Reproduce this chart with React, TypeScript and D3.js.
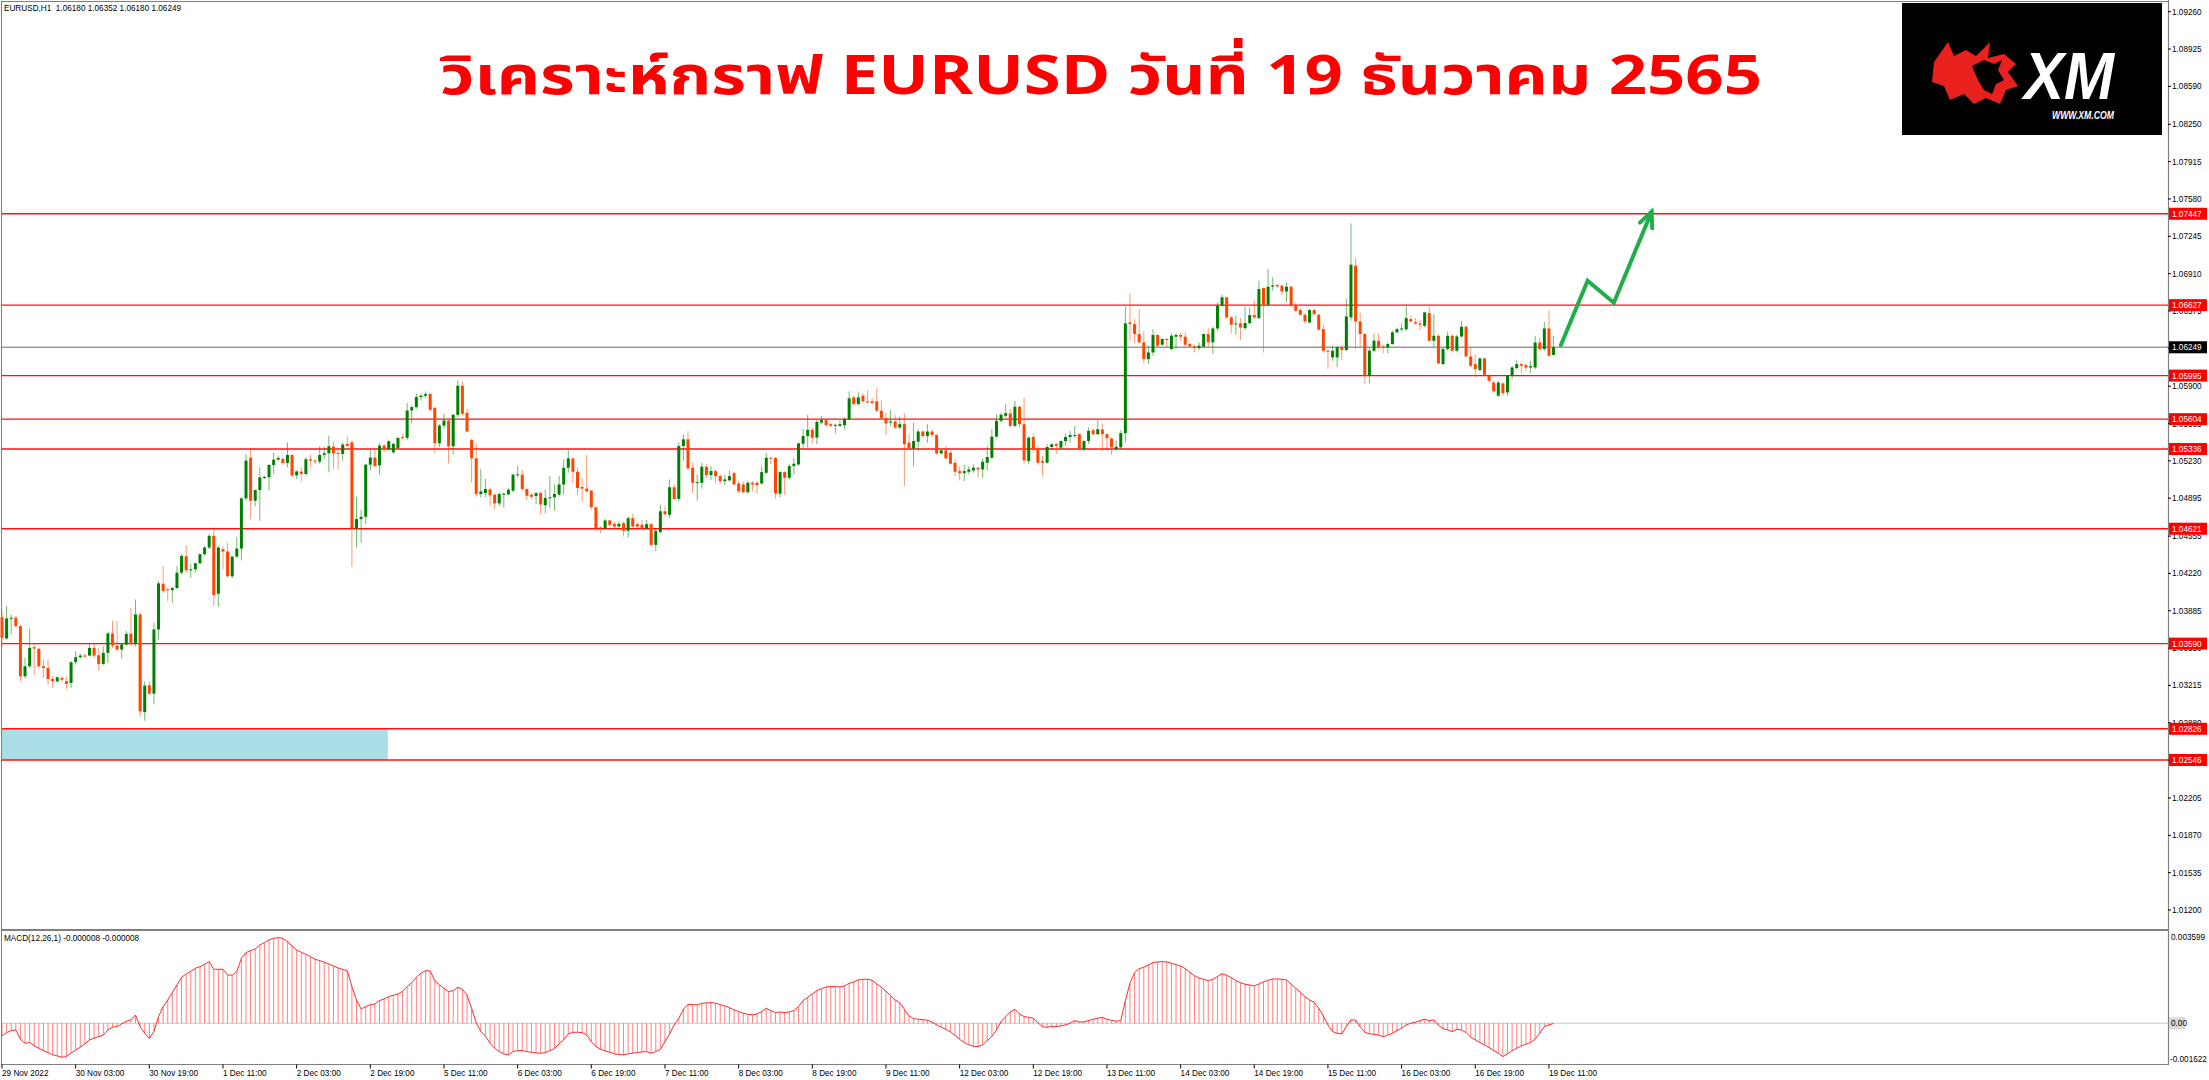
import React from 'react';
import * as d3 from 'd3';

// ---------------- DATA (EURUSD H1) ----------------
const OPEN = [
1.03828,1.03636,1.03813,1.03822,1.03747,1.03297,1.03387,1.03558,1.03543,1.03387,
1.03372,1.03273,1.03252,1.03282,1.03252,1.03237,1.03426,1.03468,1.03483,1.03483,
1.03552,1.03486,1.03408,1.03507,1.03681,1.03573,1.03537,1.03582,1.03678,1.03588,
1.03852,1.02976,1.03216,1.03141,1.03717,1.04128,1.04077,1.04070,1.04089,1.04227,
1.04374,1.04248,1.04257,1.04311,1.04392,1.04452,1.04557,1.04038,1.04437,1.04416,
1.04194,1.04371,1.04443,1.04893,1.05259,1.04872,1.04968,1.05076,1.05082,1.05193,
1.05241,1.05247,1.05211,1.05283,1.05100,1.05133,1.05112,1.05244,1.05232,1.05223,
1.05283,1.05298,1.05358,1.05301,1.05292,1.05382,1.05397,1.04623,1.04707,1.04728,
1.05196,1.05259,1.05190,1.05367,1.05337,1.05307,1.05346,1.05442,1.05436,1.05682,
1.05712,1.05802,1.05814,1.05829,1.05706,1.05388,1.05547,1.05592,1.05361,1.05643,
1.05904,1.05661,1.05418,1.05253,1.04932,1.04941,1.04974,1.04926,1.04848,1.04932,
1.04929,1.04962,1.05106,1.05106,1.04977,1.04926,1.04914,1.04941,1.04831,1.04897,
1.04903,1.04927,1.05018,1.05168,1.05252,1.05132,1.04996,1.04981,1.04963,1.04813,
1.04632,1.04626,1.04695,1.04665,1.04641,1.04671,1.04602,1.04716,1.04662,1.04656,
1.04626,1.04662,1.04476,1.04590,1.04777,1.04746,1.04993,1.04888,1.05363,1.05423,
1.05168,1.05033,1.05033,1.05177,1.05102,1.05138,1.05093,1.05048,1.05055,1.05120,
1.05027,1.05018,1.04948,1.05033,1.05033,1.05027,1.05123,1.05258,1.05255,1.04936,
1.05129,1.05078,1.05183,1.05198,1.05384,1.05453,1.05508,1.05438,1.05574,1.05595,
1.05559,1.05544,1.05544,1.05550,1.05604,1.05800,1.05740,1.05815,1.05764,1.05764,
1.05764,1.05680,1.05613,1.05574,1.05583,1.05529,1.05559,1.05393,1.05342,1.05402,
1.05493,1.05453,1.05493,1.05462,1.05297,1.05324,1.05303,1.05213,1.05138,1.05120,
1.05132,1.05144,1.05168,1.05153,1.05213,1.05258,1.05447,1.05589,1.05634,1.05655,
1.05544,1.05716,1.05559,1.05228,1.05444,1.05342,1.05228,1.05213,1.05354,1.05379,
1.05348,1.05408,1.05444,1.05456,1.05469,1.05333,1.05408,1.05505,1.05469,1.05512,
1.05470,1.05431,1.05336,1.05351,1.05479,1.06472,1.06457,1.06368,1.06293,1.06143,
1.06203,1.06359,1.06272,1.06323,1.06233,1.06344,1.06359,1.06344,1.06278,1.06257,
1.06242,1.06254,1.06368,1.06293,1.06418,1.06622,1.06697,1.06517,1.06454,1.06463,
1.06421,1.06466,1.06538,1.06511,1.06780,1.06631,1.06792,1.06807,1.06801,1.06750,
1.06792,1.06622,1.06583,1.06541,1.06472,1.06583,1.06541,1.06412,1.06218,1.06158,
1.06158,1.06248,1.06224,1.06517,1.06981,1.06481,1.06368,1.05994,1.06218,1.06308,
1.06257,1.06248,1.06278,1.06383,1.06410,1.06410,1.06502,1.06475,1.06463,1.06442,
1.06556,1.06307,1.06352,1.06098,1.06233,1.06352,1.06218,1.06346,1.06433,1.06167,
1.06098,1.06044,1.06149,1.05993,1.05933,1.05814,1.05925,1.05844,1.05993,1.06062,
1.06098,1.06089,1.06068,1.06068,1.06292,1.06233,1.06418,1.06180];

const HIGH = [
1.03882,1.03927,1.03852,1.03837,1.03762,1.03462,1.03726,1.03582,1.03552,1.03447,
1.03447,1.03297,1.03297,1.03297,1.03297,1.03432,1.03522,1.03498,1.03498,1.03597,
1.03597,1.03552,1.03567,1.03696,1.03798,1.03792,1.03597,1.03702,1.03912,1.03987,
1.03867,1.03252,1.03252,1.03777,1.04152,1.04287,1.04092,1.04098,1.04287,1.04392,
1.04473,1.04302,1.04317,1.04401,1.04467,1.04572,1.04632,1.04467,1.04467,1.04497,
1.04377,1.04548,1.04902,1.05292,1.05337,1.04971,1.05172,1.05097,1.05202,1.05301,
1.05277,1.05262,1.05397,1.05292,1.05142,1.05172,1.05262,1.05286,1.05247,1.05361,
1.05358,1.05457,1.05397,1.05322,1.05397,1.05448,1.05412,1.04908,1.04791,1.05202,
1.05337,1.05328,1.05388,1.05382,1.05412,1.05394,1.05442,1.05472,1.05748,1.05727,
1.05832,1.05832,1.05853,1.05838,1.05712,1.05562,1.05652,1.05607,1.05652,1.05952,
1.05943,1.05697,1.05427,1.05382,1.05157,1.05067,1.04992,1.04938,1.04947,1.04947,
1.04986,1.05112,1.05187,1.05148,1.04992,1.04938,1.04947,1.04956,1.04972,1.05093,
1.05018,1.05093,1.05243,1.05333,1.05258,1.05168,1.05078,1.05282,1.04972,1.04822,
1.04641,1.04710,1.04701,1.04680,1.04686,1.04686,1.04731,1.04755,1.04680,1.04701,
1.04701,1.04671,1.04626,1.04837,1.04822,1.05063,1.05018,1.05393,1.05469,1.05499,
1.05213,1.05108,1.05213,1.05198,1.05183,1.05153,1.05108,1.05108,1.05144,1.05132,
1.05048,1.05042,1.05048,1.05048,1.05048,1.05183,1.05303,1.05264,1.05264,1.05138,
1.05138,1.05204,1.05258,1.05393,1.05514,1.05643,1.05529,1.05595,1.05634,1.05604,
1.05574,1.05565,1.05595,1.05619,1.05854,1.05815,1.05845,1.05836,1.05860,1.05794,
1.05881,1.05770,1.05664,1.05686,1.05643,1.05625,1.05655,1.05469,1.05574,1.05514,
1.05505,1.05559,1.05514,1.05469,1.05333,1.05363,1.05318,1.05243,1.05183,1.05198,
1.05183,1.05198,1.05174,1.05252,1.05363,1.05514,1.05649,1.05664,1.05740,1.05695,
1.05770,1.05725,1.05800,1.05453,1.05475,1.05363,1.05273,1.05379,1.05387,1.05393,
1.05414,1.05475,1.05499,1.05544,1.05478,1.05414,1.05529,1.05520,1.05595,1.05566,
1.05476,1.05440,1.05411,1.05506,1.06613,1.06732,1.06502,1.06592,1.06392,1.06263,
1.06410,1.06368,1.06332,1.06332,1.06374,1.06374,1.06383,1.06383,1.06293,1.06272,
1.06293,1.06374,1.06421,1.06433,1.06652,1.06720,1.06703,1.06532,1.06532,1.06511,
1.06613,1.06607,1.06673,1.06846,1.06786,1.06951,1.06876,1.06816,1.06810,1.06831,
1.06801,1.06652,1.06601,1.06553,1.06592,1.06598,1.06547,1.06457,1.06233,1.06263,
1.06263,1.06263,1.06682,1.07361,1.07050,1.06562,1.06374,1.06248,1.06374,1.06374,
1.06272,1.06293,1.06398,1.06427,1.06463,1.06622,1.06532,1.06511,1.06493,1.06568,
1.06612,1.06547,1.06367,1.06248,1.06391,1.06367,1.06361,1.06487,1.06442,1.06248,
1.06182,1.06158,1.06158,1.06009,1.05948,1.05948,1.05933,1.06000,1.06083,1.06137,
1.06113,1.06104,1.06128,1.06352,1.06337,1.06478,1.06577,1.06352];

const LOW = [
1.03552,1.03627,1.03672,1.03732,1.03252,1.03282,1.03372,1.03312,1.03372,1.03282,
1.03222,1.03192,1.03237,1.03252,1.03183,1.03192,1.03402,1.03456,1.03462,1.03477,
1.03462,1.03348,1.03396,1.03417,1.03552,1.03522,1.03456,1.03567,1.03582,1.03567,
1.02937,1.02898,1.03132,1.03048,1.03627,1.04047,1.03972,1.03957,1.04077,1.04212,
1.04227,1.04182,1.04227,1.04302,1.04377,1.04437,1.03927,1.03921,1.04257,1.04182,
1.04176,1.04356,1.04338,1.04872,1.04707,1.04821,1.04692,1.05067,1.04962,1.05112,
1.05232,1.05196,1.05172,1.05082,1.05067,1.05046,1.05097,1.05172,1.05202,1.05202,
1.05247,1.05127,1.05157,1.05157,1.05232,1.05352,1.04278,1.04452,1.04497,1.04662,
1.05142,1.05172,1.05106,1.05307,1.05322,1.05292,1.05337,1.05424,1.05418,1.05568,
1.05697,1.05772,1.05796,1.05676,1.05298,1.05352,1.05517,1.05208,1.05286,1.05622,
1.05637,1.05487,1.05037,1.04908,1.04902,1.04902,1.04827,1.04797,1.04827,1.04812,
1.04920,1.04947,1.05082,1.04962,1.04878,1.04887,1.04842,1.04752,1.04762,1.04807,
1.04782,1.04909,1.04927,1.05123,1.05027,1.04927,1.04867,1.04942,1.04792,1.04602,
1.04581,1.04617,1.04641,1.04626,1.04626,1.04551,1.04542,1.04632,1.04626,1.04617,
1.04611,1.04461,1.04421,1.04581,1.04731,1.04716,1.04882,1.04867,1.05228,1.05147,
1.04942,1.04873,1.04981,1.05078,1.05058,1.05027,1.05027,1.05008,1.05048,1.05011,
1.04942,1.04936,1.04936,1.04957,1.04936,1.05018,1.05108,1.05198,1.04891,1.04903,
1.04927,1.05063,1.05108,1.05183,1.05348,1.05348,1.05384,1.05379,1.05559,1.05535,
1.05535,1.05475,1.05535,1.05514,1.05595,1.05725,1.05725,1.05755,1.05746,1.05740,
1.05664,1.05604,1.05462,1.05544,1.05514,1.05514,1.05002,1.05333,1.05183,1.05318,
1.05438,1.05393,1.05444,1.05288,1.05288,1.05243,1.05198,1.05093,1.05055,1.05048,
1.05108,1.05123,1.05078,1.05078,1.05144,1.05243,1.05438,1.05574,1.05619,1.05529,
1.05529,1.05529,1.05204,1.05198,1.05303,1.05192,1.05093,1.05204,1.05333,1.05294,
1.05333,1.05363,1.05393,1.05438,1.05324,1.05312,1.05384,1.05462,1.05462,1.05315,
1.05327,1.05285,1.05321,1.05336,1.05396,1.06308,1.06284,1.06278,1.06104,1.06098,
1.06173,1.06248,1.06263,1.06242,1.06224,1.06233,1.06308,1.06254,1.06242,1.06203,
1.06224,1.06248,1.06248,1.06188,1.06398,1.06613,1.06502,1.06374,1.06362,1.06314,
1.06404,1.06451,1.06502,1.06502,1.06203,1.06613,1.06756,1.06780,1.06720,1.06652,
1.06607,1.06562,1.06532,1.06463,1.06463,1.06532,1.06398,1.06203,1.06054,1.06128,
1.06069,1.06134,1.06218,1.06487,1.06233,1.06248,1.05925,1.05925,1.06203,1.06233,
1.06194,1.06194,1.06272,1.06374,1.06392,1.06398,1.06472,1.06451,1.06403,1.06427,
1.06301,1.06248,1.06098,1.06092,1.06218,1.06203,1.06203,1.06337,1.06158,1.06074,
1.05978,1.06038,1.05993,1.05933,1.05844,1.05805,1.05814,1.05814,1.05963,1.06053,
1.06015,1.06038,1.06015,1.06053,1.06218,1.06218,1.06164,1.06180];

const CLOSE = [
1.03642,1.03816,1.03822,1.03747,1.03297,1.03387,1.03552,1.03546,1.03387,1.03372,
1.03273,1.03252,1.03288,1.03267,1.03228,1.03423,1.03468,1.03483,1.03474,1.03552,
1.03483,1.03408,1.03507,1.03681,1.03573,1.03537,1.03582,1.03678,1.03588,1.03852,
1.02982,1.03213,1.03141,1.03717,1.04131,1.04062,1.04070,1.04089,1.04227,1.04377,
1.04248,1.04257,1.04311,1.04392,1.04452,1.04557,1.04026,1.04452,1.04416,1.04194,
1.04371,1.04443,1.04893,1.05232,1.04872,1.04968,1.05082,1.05085,1.05193,1.05241,
1.05256,1.05211,1.05283,1.05100,1.05136,1.05112,1.05244,1.05232,1.05223,1.05283,
1.05298,1.05361,1.05298,1.05292,1.05376,1.05364,1.04623,1.04707,1.04728,1.05196,
1.05259,1.05184,1.05367,1.05337,1.05406,1.05382,1.05436,1.05433,1.05682,1.05712,
1.05802,1.05814,1.05829,1.05688,1.05388,1.05547,1.05592,1.05361,1.05643,1.05904,
1.05652,1.05493,1.05253,1.04932,1.04956,1.04977,1.04920,1.04848,1.04932,1.04935,
1.04971,1.05106,1.05109,1.04977,1.04917,1.04908,1.04941,1.04839,1.04897,1.04903,
1.04933,1.05018,1.05168,1.05252,1.05132,1.04987,1.04981,1.04957,1.04813,1.04626,
1.04626,1.04695,1.04656,1.04641,1.04665,1.04602,1.04716,1.04641,1.04641,1.04626,
1.04662,1.04476,1.04602,1.04777,1.04752,1.04993,1.04888,1.05363,1.05423,1.05162,
1.05033,1.05039,1.05177,1.05102,1.05138,1.05093,1.05048,1.05063,1.05093,1.05018,
1.04957,1.04948,1.05033,1.05018,1.05011,1.05129,1.05258,1.05255,1.04936,1.05129,
1.05078,1.05183,1.05204,1.05387,1.05453,1.05508,1.05438,1.05580,1.05595,1.05550,
1.05544,1.05553,1.05559,1.05604,1.05791,1.05740,1.05800,1.05764,1.05758,1.05749,
1.05680,1.05613,1.05565,1.05583,1.05529,1.05559,1.05379,1.05342,1.05408,1.05493,
1.05453,1.05493,1.05462,1.05297,1.05324,1.05252,1.05204,1.05132,1.05120,1.05138,
1.05153,1.05168,1.05153,1.05222,1.05264,1.05447,1.05589,1.05643,1.05658,1.05544,
1.05716,1.05559,1.05234,1.05438,1.05333,1.05213,1.05213,1.05354,1.05379,1.05363,
1.05408,1.05444,1.05462,1.05462,1.05342,1.05408,1.05499,1.05469,1.05514,1.05470,
1.05434,1.05351,1.05357,1.05479,1.06463,1.06457,1.06368,1.06293,1.06143,1.06203,
1.06359,1.06263,1.06323,1.06320,1.06353,1.06359,1.06344,1.06272,1.06257,1.06242,
1.06263,1.06368,1.06293,1.06418,1.06622,1.06697,1.06517,1.06451,1.06463,1.06427,
1.06466,1.06538,1.06517,1.06771,1.06622,1.06792,1.06804,1.06795,1.06750,1.06792,
1.06622,1.06577,1.06541,1.06481,1.06583,1.06547,1.06407,1.06218,1.06212,1.06218,
1.06248,1.06224,1.06526,1.06990,1.06481,1.06368,1.05994,1.06218,1.06308,1.06248,
1.06248,1.06278,1.06383,1.06412,1.06418,1.06511,1.06481,1.06463,1.06451,1.06562,
1.06307,1.06352,1.06104,1.06233,1.06352,1.06218,1.06346,1.06433,1.06167,1.06083,
1.06053,1.06149,1.06003,1.05948,1.05853,1.05933,1.05838,1.05993,1.06068,1.06098,
1.06083,1.06068,1.06080,1.06292,1.06233,1.06418,1.06173,1.06249];

// MACD(12,26,1) main value per bar
const MACD = [
-0.000507,-0.000373,-0.000293,-0.000267,-0.000640,-0.000800,-0.000773,-0.000906,-0.001000,-0.001093,
-0.001173,-0.001266,-0.001306,-0.001360,-0.001333,-0.001200,-0.001066,-0.000960,-0.000826,-0.000667,
-0.000600,-0.000533,-0.000480,-0.000267,-0.000160,-0.000133,-0.000027,0.000080,0.000133,0.000333,
-0.000133,-0.000400,-0.000600,-0.000333,0.000267,0.000667,0.000933,0.001226,0.001533,0.001840,
0.001973,0.002079,0.002199,0.002266,0.002359,0.002466,0.002159,0.002159,0.002159,0.001933,
0.001920,0.002066,0.002599,0.002826,0.002906,0.002973,0.003133,0.003226,0.003333,0.003399,
0.003426,0.003399,0.003266,0.003093,0.002933,0.002839,0.002759,0.002666,0.002559,0.002506,
0.002439,0.002373,0.002293,0.002213,0.002159,0.002093,0.001466,0.000933,0.000573,0.000667,
0.000746,0.000773,0.000906,0.000973,0.001066,0.001120,0.001173,0.001280,0.001466,0.001626,
0.001840,0.002000,0.002106,0.002093,0.001706,0.001533,0.001400,0.001266,0.001306,0.001440,
0.001360,0.001133,0.000600,0.000027,-0.000333,-0.000507,-0.000800,-0.001000,-0.001133,-0.001226,
-0.001266,-0.001133,-0.001093,-0.001093,-0.001133,-0.001160,-0.001186,-0.001200,-0.001173,-0.001093,
-0.001013,-0.000826,-0.000667,-0.000427,-0.000360,-0.000360,-0.000373,-0.000467,-0.000733,-0.000933,
-0.001040,-0.001106,-0.001160,-0.001226,-0.001253,-0.001266,-0.001226,-0.001200,-0.001173,-0.001146,
-0.001133,-0.001200,-0.001133,-0.001040,-0.000733,-0.000427,-0.000067,0.000200,0.000560,0.000760,
0.000746,0.000733,0.000800,0.000813,0.000826,0.000800,0.000746,0.000693,0.000626,0.000533,
0.000467,0.000400,0.000360,0.000333,0.000373,0.000467,0.000600,0.000507,0.000427,0.000453,
0.000427,0.000453,0.000507,0.000667,0.000906,0.001040,0.001173,0.001306,0.001386,0.001453,
0.001466,0.001466,0.001453,0.001493,0.001600,0.001653,0.001733,0.001760,0.001760,0.001720,
0.001573,0.001440,0.001293,0.001093,0.000933,0.000826,0.000560,0.000293,0.000187,0.000160,
0.000147,0.000120,0.000053,-0.000067,-0.000160,-0.000240,-0.000347,-0.000480,-0.000640,-0.000773,
-0.000866,-0.000920,-0.000933,-0.000866,-0.000693,-0.000533,-0.000267,0.000067,0.000267,0.000453,
0.000560,0.000373,0.000267,0.000240,0.000200,0.000027,-0.000147,-0.000160,-0.000133,-0.000133,
-0.000107,-0.000067,0.000000,0.000107,0.000053,0.000053,0.000107,0.000160,0.000200,0.000240,
0.000160,0.000120,0.000080,0.000107,0.000906,0.001600,0.002026,0.002186,0.002239,0.002333,
0.002426,0.002453,0.002466,0.002453,0.002399,0.002346,0.002293,0.002186,0.002039,0.001906,
0.001813,0.001760,0.001706,0.001760,0.001866,0.001986,0.001920,0.001826,0.001706,0.001626,
0.001560,0.001533,0.001493,0.001573,0.001653,0.001720,0.001773,0.001773,0.001760,0.001733,
0.001573,0.001400,0.001240,0.001066,0.000933,0.000840,0.000600,0.000293,-0.000067,-0.000333,
-0.000400,-0.000427,-0.000133,0.000133,0.000133,-0.000133,-0.000360,-0.000427,-0.000440,-0.000480,
-0.000533,-0.000480,-0.000400,-0.000293,-0.000200,-0.000067,0.000000,0.000040,0.000107,0.000160,
0.000107,0.000133,-0.000080,-0.000213,-0.000267,-0.000333,-0.000240,-0.000267,-0.000373,-0.000560,
-0.000667,-0.000773,-0.000866,-0.000973,-0.001093,-0.001200,-0.001333,-0.001226,-0.001093,-0.001000,
-0.000906,-0.000840,-0.000773,-0.000640,-0.000400,-0.000133,-0.000067,-0.000008];

const TIME_LABELS = ['29 Nov 2022','30 Nov 03:00','30 Nov 19:00','1 Dec 11:00','2 Dec 03:00','2 Dec 19:00',
  '5 Dec 11:00','6 Dec 03:00','6 Dec 19:00','7 Dec 11:00','8 Dec 03:00','8 Dec 19:00','9 Dec 11:00',
  '12 Dec 03:00','12 Dec 19:00','13 Dec 11:00','14 Dec 03:00','14 Dec 19:00','15 Dec 11:00',
  '16 Dec 03:00','16 Dec 19:00','19 Dec 11:00'];
const TIME_LABEL_BARS = [0,16,32,48,64,80,96,112,128,144,160,176,192,208,224,240,256,272,288,304,320,336];

const PRICE_TICKS = [1.09260,1.08925,1.08590,1.08250,1.07915,1.07580,1.07245,1.06910,1.06575,1.06240,
  1.05900,1.05565,1.05230,1.04895,1.04555,1.04220,1.03885,1.03550,1.03215,1.02880,1.02545,1.02205,
  1.01870,1.01535,1.01200];

const LEVELS = [1.07447,1.06627,1.05995,1.05604,1.05336,1.04621,1.03590,1.02826,1.02546];
const BID = 1.06249;
const ZONE_BARS = [-0.2, 83.8];
const ZONE_PRICES = [1.02826, 1.02546];

const MACD_AXIS = [0.003599, 0.0, -0.001622];
const MACD_LABELS = ['0.003599', '0.00', '-0.001622'];

const ARROW_BARS = [338.6, 344.4, 350.1, 358.3];
const ARROW_PRICES = [1.06269, 1.06846, 1.06649, 1.07466];

const HEADER = 'EURUSD,H1  1.06180 1.06352 1.06180 1.06249';
const MACD_TITLE = 'MACD(12,26,1) -0.000008 -0.000008';
const TITLE = 'วิเคราะห์กราฟ EURUSD วันที่ 19 ธันวาคม 2565';

// ---------------- LAYOUT ----------------
const W = 2209, H = 1080;
const PLOT_L = 1, PLOT_R = 2168;
const BAR_STEP = 4.604;
const MAIN_TOP_PX = 11.7, MAIN_BOT_PX = 910;
const PRICE_TOP = 1.0926, PRICE_BOT = 1.012;
const SEP_Y = 930;
const MACD_TOP_PX = 933.3, MACD_BOT_PX = 1063.8;
const AXIS_Y = 1064.5;
const FONT = "'Liberation Sans', Arial, Helvetica, sans-serif";
const BULL = '#008000';
const BEAR = '#ff4500';

export default function App() {
  const n = CLOSE.length;
  const x = d3.scaleLinear().domain([0, n - 1]).range([2, 2 + (n - 1) * BAR_STEP]);
  const y = d3.scaleLinear().domain([PRICE_TOP, PRICE_BOT]).range([MAIN_TOP_PX, MAIN_BOT_PX]);
  const ym = d3.scaleLinear().domain([MACD_AXIS[0], MACD_AXIS[2]]).range([MACD_TOP_PX, MACD_BOT_PX]);
  const fmt = d3.format('.5f');

  const macdLine = d3.line<number>().x((_, i) => x(i)).y((v) => ym(v))(MACD) || '';
  const arrowPts = ARROW_BARS.map((b, i) => [x(b), y(ARROW_PRICES[i])] as [number, number]);
  const arrowPath = d3.line()(arrowPts) || '';
  const tip = arrowPts[arrowPts.length - 1];

  return (
    <svg width={W} height={H} viewBox={`0 0 ${W} ${H}`}
      style={{ position: 'absolute', left: 0, top: 0, display: 'block', background: '#fff' }}
      fontFamily={FONT}>
      <rect x={0} y={0} width={W} height={H} fill="#fff" />

      {/* zone */}
      <rect x={Math.max(PLOT_L, x(ZONE_BARS[0]))} y={y(ZONE_PRICES[0])}
        width={x(ZONE_BARS[1]) - Math.max(PLOT_L, x(ZONE_BARS[0]))}
        height={y(ZONE_PRICES[1]) - y(ZONE_PRICES[0])} fill="#abdde6" />

      {/* levels */}
      {LEVELS.map((p) => (
        <line key={p} x1={PLOT_L} x2={PLOT_R} y1={y(p)} y2={y(p)} stroke="#ff1010" strokeWidth={1.4} />
      ))}
      <line x1={PLOT_L} x2={PLOT_R} y1={y(BID)} y2={y(BID)} stroke="#9a9a9a" strokeWidth={1.6} />

      {/* candles */}
      {CLOSE.map((c, i) => {
        const o = OPEN[i];
        const up = c >= o;
        const col = up ? BULL : BEAR;
        const cx = x(i);
        const top = y(Math.max(o, c));
        const h = Math.max(1, Math.abs(y(o) - y(c)));
        return (
          <g key={i}>
            <line x1={cx} x2={cx} y1={y(HIGH[i])} y2={y(LOW[i])} stroke={col} strokeOpacity={0.55} strokeWidth={1} />
            <rect x={cx - 1.5} y={top} width={3} height={h} fill={col} />
          </g>
        );
      })}

      {/* green arrow */}
      <path d={arrowPath} fill="none" stroke="#21ad4a" strokeWidth={4} strokeLinejoin="miter" strokeLinecap="round" />
      <polyline points={`${tip[0] - 11.7},${tip[1] + 11} ${tip[0]},${tip[1]} ${tip[0] + 0.6},${tip[1] + 16.6}`}
        fill="none" stroke="#21ad4a" strokeWidth={4} strokeLinecap="round" strokeLinejoin="miter" />

      {/* title */}
      <text x={440} y={94} fontSize={54} fontWeight="bold" fill="#ff0000" textLength={1322}
        lengthAdjust="spacingAndGlyphs"
        fontFamily="'Noto Sans Thai', 'Noto Sans', 'DejaVu Sans', sans-serif">{TITLE}</text>

      {/* XM logo */}
      <rect x={1902} y={3} width={260} height={132} fill="#000" />
      <g transform="translate(1932,40)">
        <path d="M2,22 L16,2 L22,16 L34,10 L44,16 L58,2 L56,18 L72,14 L84,24 L76,32 L86,46 L74,50 L68,64 L54,58 L42,64 L32,54 L18,60 L12,46 L0,42 Z"
          fill="#e8201e" />
        <path d="M40,26 L52,20 L62,24 L70,20 L66,30 L72,40 L64,44 L60,54 L52,50 L46,40 Z" fill="#000" />
      </g>
      <text x={2024} y={99} fontSize={66} fontWeight="bold" fontStyle="italic" fill="#fff"
        textLength={90} lengthAdjust="spacingAndGlyphs">XM</text>
      <text x={2052} y={119} fontSize={10.5} fontWeight="bold" fontStyle="italic" fill="#fff"
        textLength={62} lengthAdjust="spacingAndGlyphs">WWW.XM.COM</text>

      {/* header */}
      <text x={4} y={11} fontSize={8.2} fill="#000" xmlSpace="preserve">{HEADER}</text>

      {/* MACD panel */}
      <line x1={PLOT_L} x2={PLOT_R} y1={ym(0)} y2={ym(0)} stroke="#c8c8c8" strokeWidth={1} />
      {MACD.map((v, i) => (
        <line key={i} x1={x(i)} x2={x(i)} y1={ym(0)} y2={ym(v)} stroke="#ff3030" strokeOpacity={0.6} strokeWidth={1} />
      ))}
      <path d={macdLine} fill="none" stroke="#ff2a2a" strokeWidth={1} />
      <text x={4} y={941} fontSize={8.2} fill="#000">{MACD_TITLE}</text>

      {/* frame */}
      <line x1={1.5} x2={1.5} y1={1} y2={AXIS_Y} stroke="#808080" strokeWidth={1} />
      <line x1={1} x2={PLOT_R} y1={1.5} y2={1.5} stroke="#808080" strokeWidth={1} />
      <line x1={1} x2={PLOT_R} y1={SEP_Y} y2={SEP_Y} stroke="#808080" strokeWidth={2} />
      <line x1={1} x2={PLOT_R + 1} y1={AXIS_Y} y2={AXIS_Y} stroke="#808080" strokeWidth={1} />
      <line x1={PLOT_R + 0.5} x2={PLOT_R + 0.5} y1={0} y2={AXIS_Y} stroke="#808080" strokeWidth={1.2} />

      {/* price axis ticks */}
      {PRICE_TICKS.map((t) => (
        <g key={t}>
          <line x1={PLOT_R} x2={PLOT_R + 3} y1={y(t)} y2={y(t)} stroke="#000" strokeWidth={1} />
          <text x={PLOT_R + 4} y={y(t) + 3} fontSize={8.2} fill="#000">{fmt(t)}</text>
        </g>
      ))}
      {LEVELS.map((p) => (
        <g key={'l' + p}>
          <rect x={PLOT_R + 1} y={y(p) - 6} width={38} height={12} fill="#ff0000" />
          <text x={PLOT_R + 4} y={y(p) + 3} fontSize={8.2} fill="#fff">{fmt(p)}</text>
        </g>
      ))}
      <rect x={PLOT_R + 1} y={y(BID) - 6} width={38} height={12} fill="#000" />
      <text x={PLOT_R + 4} y={y(BID) + 3} fontSize={8.2} fill="#fff">{fmt(BID)}</text>

      {/* MACD axis */}
      <text x={PLOT_R + 3} y={ym(MACD_AXIS[0]) + 7} fontSize={8.2} fill="#000">{MACD_LABELS[0]}</text>
      <rect x={PLOT_R + 1} y={ym(MACD_AXIS[1]) - 6} width={16} height={12} fill="#d8d8d8" />
      <text x={PLOT_R + 3} y={ym(MACD_AXIS[1]) + 3} fontSize={8.2} fill="#000">{MACD_LABELS[1]}</text>
      <text x={PLOT_R + 2} y={ym(MACD_AXIS[2]) - 2} fontSize={8.2} fill="#000">{MACD_LABELS[2]}</text>

      {/* time axis */}
      {TIME_LABELS.map((lab, k) => {
        const tx = x(TIME_LABEL_BARS[k]);
        return (
          <g key={lab}>
            <line x1={tx} x2={tx} y1={AXIS_Y} y2={AXIS_Y + 4} stroke="#000" strokeWidth={1} />
            <text x={tx} y={AXIS_Y + 11.5} fontSize={8.2} fill="#000">{lab}</text>
          </g>
        );
      })}
    </svg>
  );
}
